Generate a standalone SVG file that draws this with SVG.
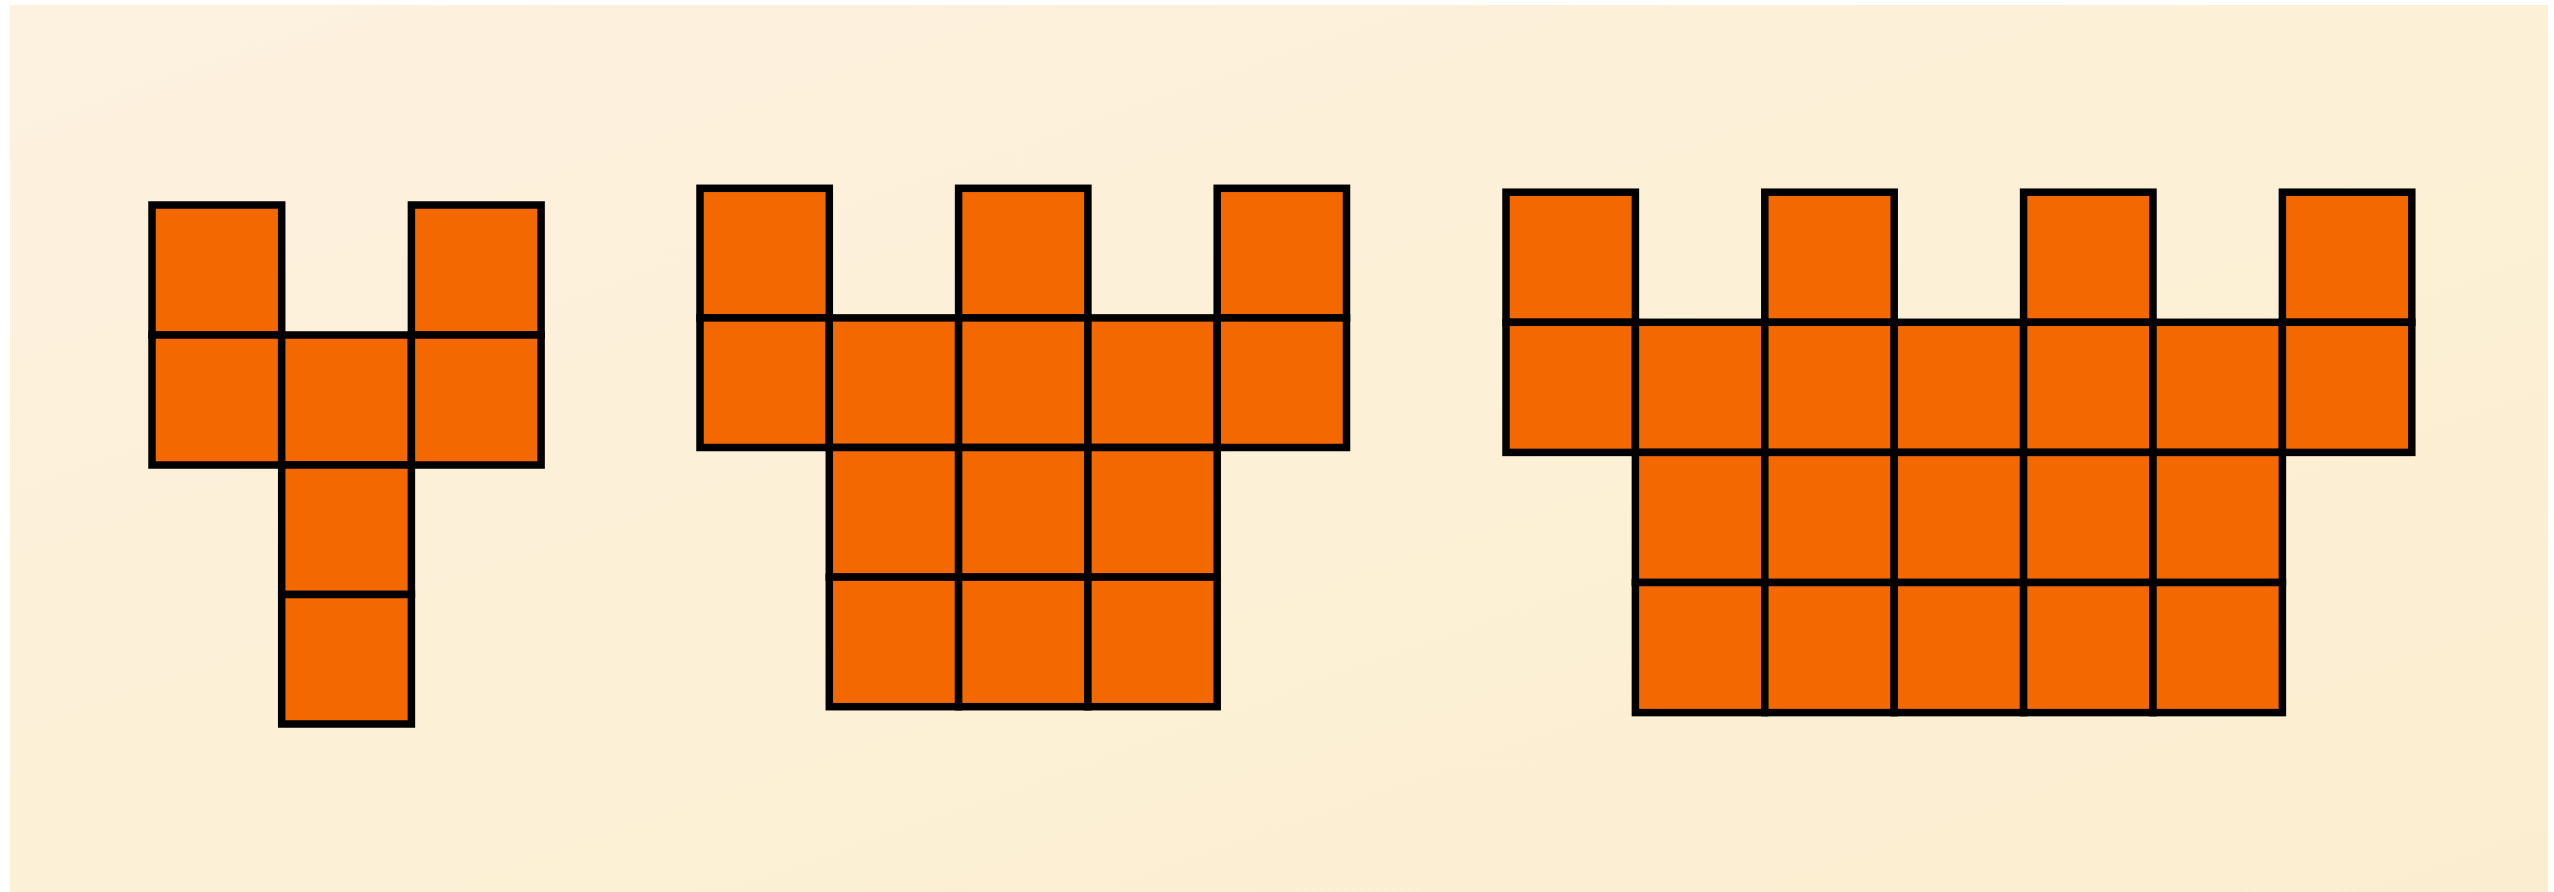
<svg xmlns="http://www.w3.org/2000/svg" width="2554" height="892" viewBox="0 0 2554 892">
<defs>
<style>
.c{fill:#f46800;stroke:#000;stroke-width:7.5;stroke-linejoin:miter}
</style>
<linearGradient id="bg" x1="0" y1="0" x2="1" y2="1">
<stop offset="0" stop-color="#fdf1e0"/>
<stop offset="0.5" stop-color="#fcf0d6"/>
<stop offset="1" stop-color="#fbeed0"/>
</linearGradient>
</defs>
<rect x="0" y="0" width="2554" height="892" fill="#ffffff"/>
<rect x="10" y="5" width="2538" height="887" fill="url(#bg)"/>
<g id="figure1">
<rect class="c" x="152" y="205" width="129.7" height="130"/>
<rect class="c" x="411.4" y="205" width="129.7" height="130"/>
<rect class="c" x="152" y="335" width="129.7" height="130"/>
<rect class="c" x="281.7" y="335" width="129.7" height="130"/>
<rect class="c" x="411.4" y="335" width="129.7" height="130"/>
<rect class="c" x="281.7" y="465" width="129.7" height="129.5"/>
<rect class="c" x="281.7" y="594.5" width="129.7" height="129.5"/>
</g>
<g id="figure2">
<rect class="c" x="700" y="188.3" width="129.3" height="129.6"/>
<rect class="c" x="958.6" y="188.3" width="129.3" height="129.6"/>
<rect class="c" x="1217.2" y="188.3" width="129.3" height="129.6"/>
<rect class="c" x="700" y="317.9" width="129.3" height="129.6"/>
<rect class="c" x="829.3" y="317.9" width="129.3" height="129.6"/>
<rect class="c" x="958.6" y="317.9" width="129.3" height="129.6"/>
<rect class="c" x="1087.9" y="317.9" width="129.3" height="129.6"/>
<rect class="c" x="1217.2" y="317.9" width="129.3" height="129.6"/>
<rect class="c" x="829.3" y="447.5" width="129.3" height="129.6"/>
<rect class="c" x="958.6" y="447.5" width="129.3" height="129.6"/>
<rect class="c" x="1087.9" y="447.5" width="129.3" height="129.6"/>
<rect class="c" x="829.3" y="577.1" width="129.3" height="129.6"/>
<rect class="c" x="958.6" y="577.1" width="129.3" height="129.6"/>
<rect class="c" x="1087.9" y="577.1" width="129.3" height="129.6"/>
</g>
<g id="figure3">
<rect class="c" x="1506" y="192.2" width="129.4" height="130.1"/>
<rect class="c" x="1764.8" y="192.2" width="129.4" height="130.1"/>
<rect class="c" x="2023.6" y="192.2" width="129.4" height="130.1"/>
<rect class="c" x="2282.4" y="192.2" width="129.4" height="130.1"/>
<rect class="c" x="1506" y="322.3" width="129.4" height="130.1"/>
<rect class="c" x="1635.4" y="322.3" width="129.4" height="130.1"/>
<rect class="c" x="1764.8" y="322.3" width="129.4" height="130.1"/>
<rect class="c" x="1894.2" y="322.3" width="129.4" height="130.1"/>
<rect class="c" x="2023.6" y="322.3" width="129.4" height="130.1"/>
<rect class="c" x="2153" y="322.3" width="129.4" height="130.1"/>
<rect class="c" x="2282.4" y="322.3" width="129.4" height="130.1"/>
<rect class="c" x="1635.4" y="452.4" width="129.4" height="130.1"/>
<rect class="c" x="1764.8" y="452.4" width="129.4" height="130.1"/>
<rect class="c" x="1894.2" y="452.4" width="129.4" height="130.1"/>
<rect class="c" x="2023.6" y="452.4" width="129.4" height="130.1"/>
<rect class="c" x="2153" y="452.4" width="129.4" height="130.1"/>
<rect class="c" x="1635.4" y="582.5" width="129.4" height="130.1"/>
<rect class="c" x="1764.8" y="582.5" width="129.4" height="130.1"/>
<rect class="c" x="1894.2" y="582.5" width="129.4" height="130.1"/>
<rect class="c" x="2023.6" y="582.5" width="129.4" height="130.1"/>
<rect class="c" x="2153" y="582.5" width="129.4" height="130.1"/>
</g>
<g id="connectors"/>
</svg>
